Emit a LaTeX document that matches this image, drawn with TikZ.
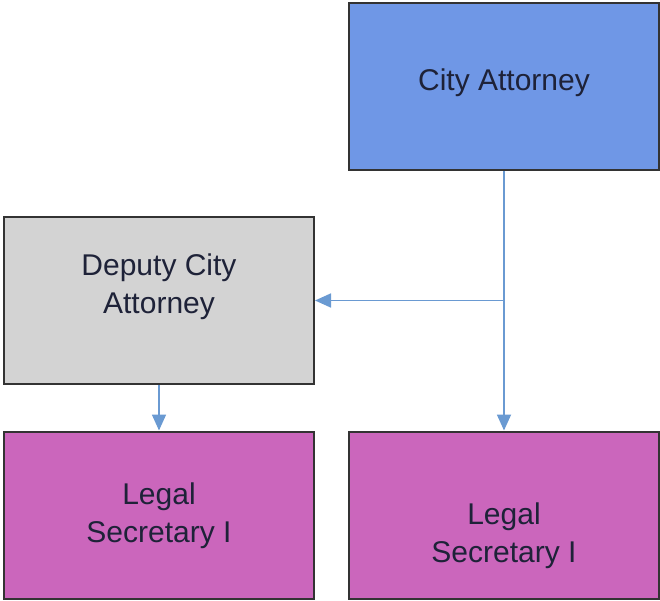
\documentclass[tikz,border=0pt]{standalone}
\usepackage{fontspec}
\setmainfont{Liberation Sans}
\usetikzlibrary{arrows.meta}
\definecolor{topblue}{HTML}{6F97E6}
\definecolor{deputygray}{HTML}{D3D3D3}
\definecolor{secmagenta}{HTML}{CB66BC}
\definecolor{linkblue}{HTML}{6A9AD2}
\definecolor{boxline}{HTML}{333333}
\definecolor{nametext}{HTML}{1E2238}
\tikzset{
	post/.style={draw=boxline, line width=2pt, inner sep=0pt, minimum width=310pt, minimum height=167pt},
	postname/.style={align=center, font=\fontsize{30}{38}\selectfont, text=nametext},
	link/.style={draw=linkblue, line width=1.8pt, -{Triangle[length=16pt,width=14pt]}}
}

\begin{document}
\begin{tikzpicture}[x=1pt, y=-1pt]
			%%%%% START %%%%%
			
			\useasboundingbox (0, 0) rectangle (660, 601);
			
			\node[post, fill=topblue] (ca) at (504, 87) {};
			\node[postname] (catext) at (504, 83) {City Attorney};
			
			\node[post, fill=deputygray] (dca) at (159, 300.5) {};
			\node[postname] (dcatext) at (159, 287) {Deputy City\\Attorney};
			
			\node[post, fill=secmagenta] (lsa) at (159, 515) {};
			\node[postname] (lsatext) at (159, 516) {Legal\\Secretary I};
			
			\node[post, fill=secmagenta] (lsb) at (504, 515) {};
			\node[postname] (lsbtext) at (504, 536) {Legal\\Secretary I};
			
			\coordinate (split) at (ca.south |- dca.east);
			
			\draw[link] (ca.south) -- (lsb.north);
			\draw[link] (split) -- (dca.east);
			\draw[link] (dca.south) -- (lsa.north);
			
			%%%%% END %%%%%
		\end{tikzpicture}
\end{document}
